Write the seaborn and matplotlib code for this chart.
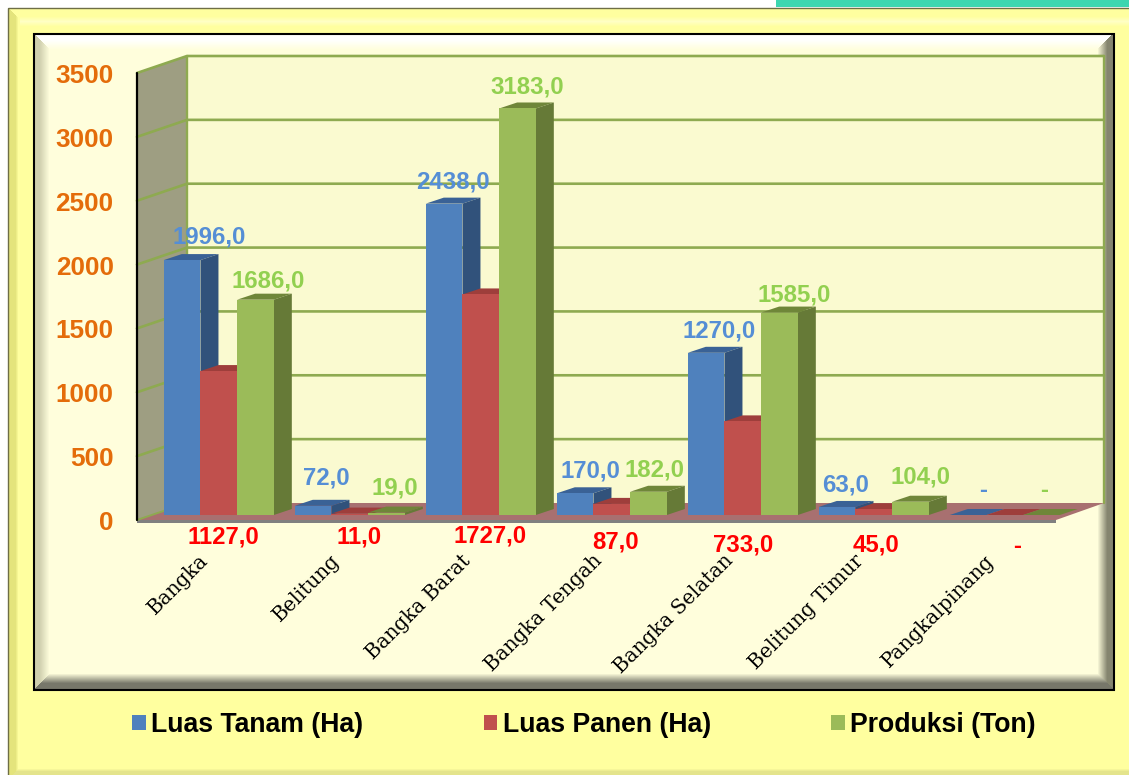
import numpy as np
import pandas as pd
import matplotlib
matplotlib.use("Agg")
import matplotlib.pyplot as plt
from matplotlib.colors import to_rgb
from matplotlib.patches import Polygon, Rectangle
from matplotlib.transforms import ScaledTranslation
import seaborn as sns

regions = ["Bangka", "Belitung", "Bangka Barat", "Bangka Tengah",
           "Bangka Selatan", "Belitung Timur", "Pangkalpinang"]
luas_tanam = [1996.0, 72.0, 2438.0, 170.0, 1270.0, 63.0, 0.0]
luas_panen = [1127.0, 11.0, 1727.0, 87.0, 733.0, 45.0, 0.0]
produksi = [1686.0, 19.0, 3183.0, 182.0, 1585.0, 104.0, 0.0]
series_names = ["Luas Tanam (Ha)", "Luas Panen (Ha)", "Produksi (Ton)"]
y_ticks = [0, 500, 1000, 1500, 2000, 2500, 3000, 3500]

# label anchor points in picture pixels (hand placed in the source chart)
pos_tanam = [(209, 237), (326, 478), (453, 182), (590, 471), (719, 331), (846, 485), (983, 491)]
pos_panen = [(223, 537), (359, 537), (490, 536), (616, 542), (743, 545), (876, 545), (1017, 546)]
pos_prod = [(268, 281), (395, 488), (527, 87), (654, 470), (794, 295), (921, 477), (1044, 491)]

front = ["#4F81BD", "#C0504D", "#9BBB59"]
side = ["#31527B", "#8C3836", "#667A37"]
top = ["#3A6296", "#9E3E3B", "#6F8639"]
label_cols = ["#558ED5", "#FF0000", "#92D050"]

sns.set_theme(style="white")
plt.rcParams["font.family"] = ["Liberation Sans", "DejaVu Sans"]

W, H = 1129, 775
fig = plt.figure(figsize=(W / 100, H / 100), dpi=100, facecolor="white")

pix = fig.add_axes([0, 0, 1, 1], zorder=0)
pix.set_xlim(0, W)
pix.set_ylim(H, 0)
pix.axis("off")


def lerp(a, b, t):
    a, b = np.array(to_rgb(a)), np.array(to_rgb(b))
    return tuple(a + (b - a) * t)


def bevel(x0, y0, x1, y1, w, face, edges, solid=0.35, z=1):
    """edges: colours for top, right, bottom, left, fading toward the face."""
    pix.add_patch(Rectangle((x0, y0), x1 - x0, y1 - y0, fc=face, ec="none", zorder=z))
    n = int(w)
    for i in range(n):
        a, b = i * w / n, (i + 1) * w / n
        t = i / max(n - 1, 1)
        fade = min(max((t - solid) / (1 - solid), 0), 1)
        quads = [
            [(x0 + a, y0 + a), (x1 - a, y0 + a), (x1 - b, y0 + b), (x0 + b, y0 + b)],
            [(x1 - a, y0 + a), (x1 - a, y1 - a), (x1 - b, y1 - b), (x1 - b, y0 + b)],
            [(x0 + a, y1 - a), (x1 - a, y1 - a), (x1 - b, y1 - b), (x0 + b, y1 - b)],
            [(x0 + a, y0 + a), (x0 + a, y1 - a), (x0 + b, y1 - b), (x0 + b, y0 + b)],
        ]
        for q, e in zip(quads, edges):
            pix.add_patch(Polygon(q, closed=True, fc=lerp(e, face, fade), ec="none",
                                  lw=0, zorder=z + 0.1, antialiased=False))


# page strip and outer panel
pix.add_patch(Rectangle((776, 0), W - 776, 7, fc="#3DD6B0", ec="none", zorder=0.5))
bevel(8, 8, W + 10, H + 4, 11, "#FFFF9F", ["#FFFF9F", "#FFFF9F", "#E4E48C", "#E4E47C"], solid=0.7)
for i in range(9):
    shade = 1 - abs(i - 4) / 5
    pix.add_patch(Rectangle((20, 16.5 + i), W, 1, fc=lerp("#FFFF9F", "#FFFFC4", shade),
                            ec="none", zorder=1.5))
pix.add_patch(Rectangle((8, 8), W, H, fc="none", ec="#6E6E46", lw=1, zorder=2))

# inner panel
bevel(34, 34, 1113, 689, 16, "#FFFEDC", ["#FFFFFF", "#85856F", "#77776A", "#CFCFAE"], z=3)
pix.add_patch(Rectangle((33.5, 33.5), 1080, 656, fc="none", ec="black", lw=1.5, zorder=4))

# data axes: 0 at pixel row 515, 3500 at row 68; categories 131 px apart
ax = fig.add_axes([153.3 / W, (H - 515) / H, 917 / W, 447 / H], zorder=1)
ax.patch.set_alpha(0)

df = pd.DataFrame({
    "region": regions * 3,
    "series": np.repeat(series_names, len(regions)),
    "value": luas_tanam + luas_panen + produksi,
})
sns.barplot(data=df, x="region", y="value", hue="series", order=regions,
            hue_order=series_names, palette=front, width=0.84, gap=0,
            saturation=1, edgecolor="none", linewidth=0, ax=ax, errorbar=None)

ax.set_xlim(-0.5, 6.5)
ax.set_ylim(0, 3500)
ax.set_yticks(y_ticks)
ax.set_xlabel("")
ax.set_ylabel("")
sns.despine(ax=ax, left=True, bottom=True)
to_px = ax.transData + pix.transData.inverted()


def ypx(v):
    return to_px.transform((0, v))[1]


# 3D room: side wall, back wall, floor
DY_W = 17
wall_x0, wall_x1 = 137, 187
back_r = 1104
F = ypx(0) + 5
T = ypx(3500) + 5
pix.add_patch(Polygon([(wall_x0, T), (wall_x1, T - DY_W), (wall_x1, F - DY_W), (wall_x0, F)],
                      fc="#9E9E82", ec="none", zorder=5))
pix.add_patch(Rectangle((wall_x1, T - DY_W), back_r - wall_x1, F - T, fc="#FAFAD0", ec="none", zorder=5))
pix.add_patch(Polygon([(wall_x0, F), (wall_x1, F - DY_W), (back_r, F - DY_W), (1056, F)],
                      fc="#A87070", ec="none", zorder=5.2))
pix.add_patch(Rectangle((wall_x0, F), 1056 - wall_x0, 2.5, fc="#808080", ec="none", zorder=5.3))
grid_col = "#8EAA50"
for v in y_ticks:
    yf = ypx(v) + 5
    if v == 0:
        pix.plot([wall_x0, wall_x1], [yf, yf - DY_W], color=grid_col, lw=1.4, zorder=5.4)
        continue
    pix.plot([wall_x0, wall_x1, back_r], [yf, yf - DY_W, yf - DY_W], color=grid_col, lw=1.9, zorder=5.1)
pix.plot([wall_x1, wall_x1], [T - DY_W, F - DY_W], color=grid_col, lw=1.7, zorder=5.1)
pix.plot([back_r, back_r], [T - DY_W, F - DY_W], color=grid_col, lw=1.7, zorder=5.1)
pix.plot([wall_x0, wall_x0], [T, F], color="black", lw=1.6, zorder=5.5)

# pseudo 3D bar faces built from the bars seaborn drew
DX, DY = 18, 6
items = []
for k, cont in enumerate(ax.containers):
    for bar in cont:
        items.append((bar.get_x(), k, bar))
items.sort(key=lambda it: it[0])
for i, (_, k, bar) in enumerate(items):
    z = 3 + i * 0.01
    bar.set_zorder(z + 0.005)
    x0, x1 = bar.get_x(), bar.get_x() + bar.get_width()
    h = bar.get_height()
    (px0, py0), (px1, py1) = to_px.transform([(x0, h), (x1, 0)])
    ax.add_patch(Polygon([(px0, py0), (px1, py0), (px1 + DX, py0 - DY), (px0 + DX, py0 - DY)],
                         transform=pix.transData, clip_on=False, fc=top[k], ec="none", zorder=z))
    ax.add_patch(Polygon([(px1, py0), (px1 + DX, py0 - DY), (px1 + DX, py1 - DY), (px1, py1)],
                         transform=pix.transData, clip_on=False, fc=side[k], ec="none", zorder=z))

# value labels
for vals, pos, col in zip([luas_tanam, luas_panen, produksi],
                          [pos_tanam, pos_panen, pos_prod], label_cols):
    for v, (x, y) in zip(vals, pos):
        txt = f"{v:.1f}".replace(".", ",") if v > 0 else "-"
        ax.text(x, y, txt, transform=pix.transData, color=col, fontsize=17.3,
                fontweight="bold", ha="center", va="center", zorder=10, clip_on=False)

# ticks
ax.tick_params(axis="y", length=0, pad=28.5, labelsize=18.8, labelcolor="#E46C0A")
for lab in ax.get_yticklabels():
    lab.set_fontweight("bold")
    lab.set_transform(lab.get_transform() + ScaledTranslation(0, -0.055, fig.dpi_scale_trans))
ax.tick_params(axis="x", length=0, pad=26)
ax.set_xticks(range(len(regions)))
ax.set_xticklabels(regions, rotation=45, ha="right", va="top", rotation_mode="anchor",
                   fontsize=14.3, color="black", family=["DejaVu Serif"])
for lab in ax.get_xticklabels():
    lab.set_transform(lab.get_transform() + ScaledTranslation(-0.2, 0, fig.dpi_scale_trans))

# legend
handles, labels = ax.get_legend_handles_labels()
ax.legend(handles, labels, loc="center", bbox_to_anchor=(584, 725), bbox_transform=pix.transData,
          ncol=3, frameon=False, columnspacing=4.5, handlelength=0.52, handleheight=0.52,
          handletextpad=0.2, borderpad=0, prop={"family": "Liberation Sans", "weight": "bold", "size": 19.2},
          labelcolor="black")

fig.savefig("out.png", dpi=100, facecolor=fig.get_facecolor())
